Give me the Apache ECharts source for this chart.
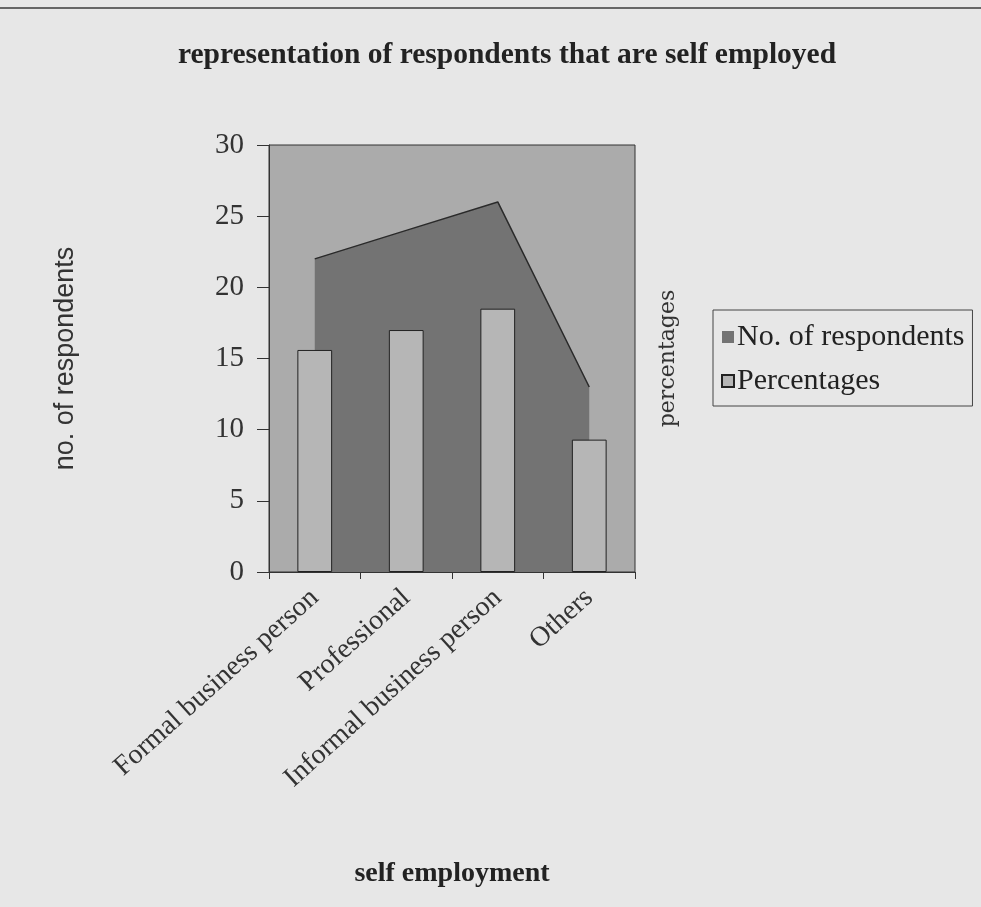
<!DOCTYPE html>
<html>
<head>
<meta charset="utf-8">
<script src="https://cdn.jsdelivr.net/npm/echarts@6/dist/echarts.min.js"></script>
<style>
  html, body { margin: 0; padding: 0; background: #e7e7e7; }
  #chart { width: 981px; height: 907px; }
</style>
</head>
<body>
<div id="chart"></div>
<script>
// data
const categories = ['Formal business person', 'Professional', 'Informal business person', 'Others'];
const respondents = [22, 24, 26, 13];
const percentages = [15.6, 17.0, 18.5, 9.3];
const yTicks = { min: 0, max: 30, interval: 5 };

const serif = '"Liberation Serif", "DejaVu Serif", serif';

const chart = echarts.init(document.getElementById('chart'));

chart.setOption({
  backgroundColor: '#e7e7e7',
  animation: false,
  title: {
    text: 'representation of respondents that are self employed',
    left: 502,
    textAlign: 'center',
    top: 35,
    textStyle: { fontFamily: serif, fontSize: 29.5, fontWeight: 'bold', color: '#222' }
  },
  legend: {
    orient: 'vertical',
    left: 713,
    top: 310,
    padding: [12, 8, 10, 8],
    itemGap: 14,
    itemWidth: 12,
    itemHeight: 12,
    borderColor: '#444',
    borderWidth: 1,
    icon: 'rect',
    textStyle: { fontFamily: serif, fontSize: 30, color: '#222', padding: [0, 0, 0, -2] },
    data: ['No. of respondents', 'Percentages']
  },
  graphic: [
    { type: 'line', shape: { x1: 0, y1: 8, x2: 981, y2: 8 }, style: { stroke: '#666', lineWidth: 2 } }
  ],
  grid: {
    left: 269,
    top: 145,
    width: 366,
    height: 427,
    show: true,
    backgroundColor: '#ababab',
    borderColor: '#333',
    borderWidth: 1
  },
  xAxis: {
    type: 'category',
    data: categories,
    boundaryGap: true,
    name: 'self employment',
    nameLocation: 'middle',
    nameGap: 288,
    nameTextStyle: { fontFamily: serif, fontSize: 28, fontWeight: 'bold', color: '#222' },
    axisLine: { lineStyle: { color: '#333', width: 1 } },
    axisTick: { show: true, length: 7, lineStyle: { color: '#333' } },
    axisLabel: { rotate: 42, margin: 22, fontFamily: serif, fontSize: 28, color: '#333', interval: 0 },
    splitLine: { show: false }
  },
  yAxis: [
    {
      type: 'value',
      min: yTicks.min,
      max: yTicks.max,
      interval: yTicks.interval,
      name: 'no. of respondents',
      nameLocation: 'middle',
      nameGap: 190,
      nameTextStyle: { fontFamily: '"Liberation Sans", Arial, sans-serif', fontSize: 27, color: '#333' },
      axisLine: { show: true, lineStyle: { color: '#333' } },
      axisTick: { show: true, length: 12, lineStyle: { color: '#333' } },
      axisLabel: { fontFamily: serif, fontSize: 29, color: '#333', margin: 25 },
      splitLine: { show: false }
    },
    {
      type: 'value',
      min: yTicks.min,
      max: yTicks.max,
      interval: yTicks.interval,
      position: 'right',
      name: 'percentages',
      nameLocation: 'middle',
      nameGap: 22,
      nameTextStyle: { fontFamily: '"DejaVu Serif", serif', fontSize: 22, color: '#333' },
      axisLine: { show: false },
      axisTick: { show: false },
      axisLabel: { show: false },
      splitLine: { show: false }
    }
  ],
  series: [
    {
      name: 'No. of respondents',
      type: 'line',
      data: respondents,
      yAxisIndex: 0,
      z: 1,
      showSymbol: false,
      symbol: 'none',
      color: '#737373',
      lineStyle: { color: '#2a2a2a', width: 1.5 },
      areaStyle: { color: '#737373', opacity: 1 }
    },
    {
      name: 'Percentages',
      type: 'bar',
      data: percentages,
      yAxisIndex: 1,
      z: 2,
      barWidth: '38%',
      color: '#b6b6b6',
      itemStyle: { color: '#b6b6b6', borderColor: '#222', borderWidth: 1 }
    }
  ]
});
</script>
</body>
</html>
